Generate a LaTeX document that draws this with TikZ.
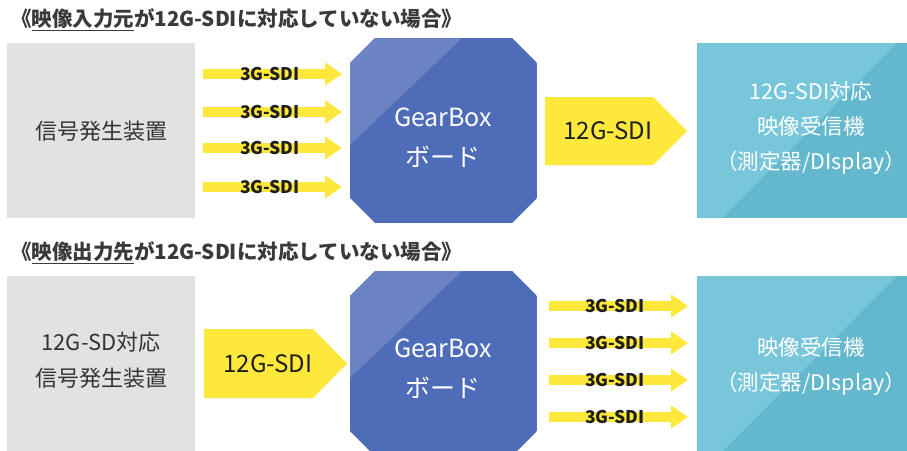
\documentclass[tikz,border=0pt]{standalone}
\usepackage{fontspec}
\setmainfont{Noto Sans CJK JP}
\usetikzlibrary{arrows.meta}
\definecolor{boxgray}{HTML}{E2E2E2}
\definecolor{gbblue}{HTML}{4F6CB8}
\definecolor{gblight}{HTML}{6B82C3}
\definecolor{cyandark}{HTML}{63B8CE}
\definecolor{cyanlight}{HTML}{78C6DA}
\definecolor{sigyellow}{HTML}{FFE83C}
\definecolor{titlegray}{HTML}{3A3A3A}
\definecolor{labeldark}{HTML}{1E1E1E}
\tikzset{
  titletext/.style={anchor=west, text=titlegray, font=\bfseries\fontsize{20.5}{22}\selectfont, inner sep=0pt},
  graytext/.style={text=titlegray!90!black, font=\fontsize{22}{36}\selectfont, align=center},
  whitetext/.style={text=white, font=\fontsize{25}{40}\selectfont, align=center},
  cyantext/.style={text=white, font=\fontsize{21.5}{35}\selectfont, align=center},
  smallsig/.style={sigyellow, line width=10pt, -{Triangle[width=22pt,length=17pt]}, shorten >=0pt},
  smalllabel/.style={text=labeldark, font=\bfseries\fontsize{17.5}{18}\selectfont, inner sep=0pt},
  biglabel/.style={text=labeldark, font=\fontsize{24}{25}\selectfont, inner sep=0pt},
}
\begin{document}
\begin{tikzpicture}[x=1pt,y=-1pt]
\useasboundingbox (0,0) rectangle (907,450);
\fill[white] (0,0) rectangle (907,450);

% ---------- top row ----------
\node[titletext] (t1) at (11,20) {《\underline{映像入力元}が12G-SDIに対応していない場合》};

\fill[boxgray] (7,43) rectangle (195,218);
\node[graytext] (src1) at (101,131) {信号発生装置};

% octagon 1
\begin{scope}
\clip (375,38) -- (512,38) -- (537,63) -- (537,198) -- (512,223) -- (375,223) -- (350,198) -- (350,63) -- cycle;
\fill[gbblue] (350,38) rectangle (537,223);
\fill[gblight] (350,38) -- (462,38) -- (350,145) -- cycle;
\end{scope}
\node[whitetext] (gb1) at (443,138) {GearBox\\ボード};

% small arrows in
\foreach \y [count=\i] in {74,112,148,187}{
  \coordinate (a\i s) at (203,\y);
  \coordinate (a\i e) at (342,\y);
  \draw[smallsig] (a\i s) -- (a\i e);
  \node[smalllabel] (la\i) at (270,\y) {3G-SDI};
}

% big arrow out
\fill[sigyellow] (545,97) -- (653,97) -- (687,131) -- (653,165) -- (545,165) -- cycle;
\node[biglabel] (b1) at (608,131) {12G-SDI};

% cyan box 1
\begin{scope}
\clip (697,43) rectangle (907,218);
\fill[cyandark] (697,43) rectangle (907,218);
\fill[cyanlight] (697,43) -- (897,43) -- (722,218) -- (697,218) -- cycle;
\end{scope}
\node[cyantext] (rx1) at (811,128) {12G-SDI対応\\映像受信機\\（測定器/DIsplay）};

% ---------- bottom row ----------
\node[titletext] (t2) at (11,253) {《\underline{映像出力先}が12G-SDIに対応していない場合》};

\fill[boxgray] (7,276) rectangle (195,452);
\node[graytext] (src2) at (101,360) {12G-SD対応\\信号発生装置};

\fill[sigyellow] (204,329) -- (313,329) -- (347,363.5) -- (313,398) -- (204,398) -- cycle;
\node[biglabel] (b2) at (268,364) {12G-SDI};

% octagon 2
\begin{scope}
\clip (375,271) -- (512,271) -- (537,296) -- (537,431) -- (512,456) -- (375,456) -- (350,431) -- (350,296) -- cycle;
\fill[gbblue] (350,271) rectangle (537,456);
\fill[gblight] (350,271) -- (462,271) -- (350,378) -- cycle;
\end{scope}
\node[whitetext] (gb2) at (443,369) {GearBox\\ボード};

\foreach \y [count=\i] in {306,343,380,417}{
  \coordinate (c\i s) at (549,\y);
  \coordinate (c\i e) at (688,\y);
  \draw[smallsig] (c\i s) -- (c\i e);
  \node[smalllabel] (lc\i) at (615,\y) {3G-SDI};
}

% cyan box 2
\begin{scope}
\clip (697,276) rectangle (907,452);
\fill[cyandark] (697,276) rectangle (907,452);
\fill[cyanlight] (697,276) -- (897,276) -- (722,452) -- (697,452) -- cycle;
\end{scope}
\node[cyantext] (rx2) at (811,366) {映像受信機\\（測定器/DIsplay）};
\end{tikzpicture}
\end{document}
